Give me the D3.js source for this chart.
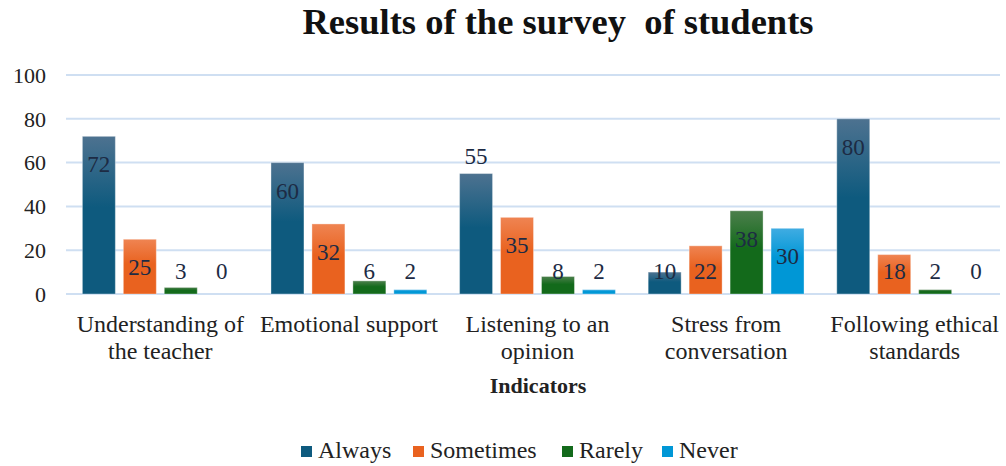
<!DOCTYPE html>
<html><head><meta charset="utf-8">
<script src="https://cdn.jsdelivr.net/npm/d3@7"></script>
<style>body{margin:0;background:#fff}svg{display:block}</style>
</head><body><svg id="c" width="1006" height="466" font-family="Liberation Serif"></svg>
<script>
const categories = ["Understanding of the teacher","Emotional support","Listening to an opinion","Stress from conversation","Following ethical standards"];
const series = ["Always","Sometimes","Rarely","Never"];
const always = [72,60,55,10,80];
const sometimes = [25,32,35,22,18];
const rarely = [3,6,8,38,2];
const never = [0,2,2,30,0];
const yTicks = [0,20,40,60,80,100];
const titleText = "Results of the survey\u00a0 of students";
const axisTitle = "Indicators";
// labels placed above their bar (outside end)
const labelsOutside = [[2,"Always"]];

const FONT = "Liberation Serif";
const colors = {
  Always:["#4d7290","#0e5a7e"],
  Sometimes:["#ef8452","#e9621f"],
  Rarely:["#4c7f4c","#136a1b"],
  Never:["#40ace2","#0097d6"]
};
const valuesBySeries = {Always:always,Sometimes:sometimes,Rarely:rarely,Never:never};

const svg = d3.select("#c");
const defs = svg.append("defs");
series.forEach((s,i)=>{
  const g = defs.append("linearGradient").attr("id","g"+i).attr("x1",0).attr("y1",0).attr("x2",0).attr("y2",1);
  g.append("stop").attr("offset","0%").attr("stop-color",colors[s][0]);
  g.append("stop").attr("offset","45%").attr("stop-color",colors[s][1]);
  g.append("stop").attr("offset","100%").attr("stop-color",colors[s][1]);
});

const x0 = d3.scaleBand().domain(categories).range([66,1009]);
const x1 = d3.scaleBand().domain(series).range([0,x0.bandwidth()]).paddingInner(0.195).paddingOuter(0.4);
const y = d3.scaleLinear().domain([0,100]).range([294,75]);

// gridlines
svg.append("g").selectAll("line").data(yTicks).join("line")
  .attr("x1",66).attr("x2",1000).attr("y1",d=>y(d)).attr("y2",d=>y(d))
  .attr("stroke","#cfdff2").attr("stroke-width",2);

// y axis labels
const yAxis = d3.axisLeft(y).tickValues(yTicks).tickSize(0).tickPadding(0);
const ya = svg.append("g").attr("transform","translate(46,0)").call(yAxis);
ya.attr("font-family",FONT);
ya.select(".domain").remove();
ya.selectAll("text").attr("font-size",22).attr("font-family",FONT).attr("fill","#222").attr("dy","0.33em");

// bars
const groups = svg.append("g").selectAll("g").data(categories).join("g")
  .attr("transform",d=>`translate(${x0(d)},0)`);
const recs = (c,ci)=>series.map((s,si)=>({c,ci,s,si,v:valuesBySeries[s][ci]}));
groups.selectAll("rect").data((c,ci)=>recs(c,ci)).join("rect")
  .attr("x",d=>x1(d.s)).attr("width",x1.bandwidth())
  .attr("y",d=>y(d.v)).attr("height",d=>y(0)-y(d.v))
  .attr("fill",d=>`url(#g${d.si})`)
  .attr("stroke","rgba(255,255,255,0.35)").attr("stroke-width",1);

// value labels
groups.selectAll("text.v").data((c,ci)=>recs(c,ci)).join("text").attr("class","v")
  .attr("x",d=>x1(d.s)+x1.bandwidth()/2)
  .attr("y",d=>{
    const out = labelsOutside.some(o=>o[0]===d.ci&&o[1]===d.s);
    return out ? y(d.v)-18 : Math.min(y(d.v)+28, 271);
  })
  .attr("dy","0.35em").attr("text-anchor","middle").attr("font-size",23).attr("font-family",FONT)
  .attr("fill","#1d2b44").text(d=>d.v);

// category labels with wrapping
const xa = svg.append("g");
categories.forEach(c=>{
  const cx = x0(c)+x0.bandwidth()/2;
  const t = xa.append("text").attr("x",cx).attr("y",332).attr("font-family",FONT)
    .attr("text-anchor","middle").attr("font-size",24).attr("fill","#222");
  const words = c.split(" ");
  let line=[];
  let ts = t.append("tspan").attr("x",cx).attr("dy",0);
  words.forEach(w=>{
    line.push(w); ts.text(line.join(" "));
    if(ts.node().getComputedTextLength()>x0.bandwidth()-4 && line.length>1){
      line.pop(); ts.text(line.join(" ")); line=[w];
      ts = t.append("tspan").attr("x",cx).attr("dy",27).text(w);
    }
  });
});

// axis title
svg.append("text").attr("x",538).attr("y",393).attr("text-anchor","middle").attr("font-family",FONT)
  .attr("font-size",22).attr("font-weight","bold").attr("fill","#222").text(axisTitle);

// title
svg.append("text").attr("x",558).attr("y",34).attr("text-anchor","middle").attr("font-family",FONT)
  .attr("font-size",36.5).attr("font-weight","bold").attr("fill","#111").text(titleText);

// legend
const legX = [301,413,562,662];
const lg = svg.append("g").selectAll("g").data(series).join("g")
  .attr("transform",(d,i)=>`translate(${legX[i]},0)`);
lg.append("rect").attr("x",0).attr("y",446).attr("width",11).attr("height",11).attr("fill",(d,i)=>colors[d][1]);
lg.append("text").attr("x",17).attr("y",458).attr("font-family",FONT).attr("font-size",24).attr("fill","#222").text(d=>d);
</script></body></html>
